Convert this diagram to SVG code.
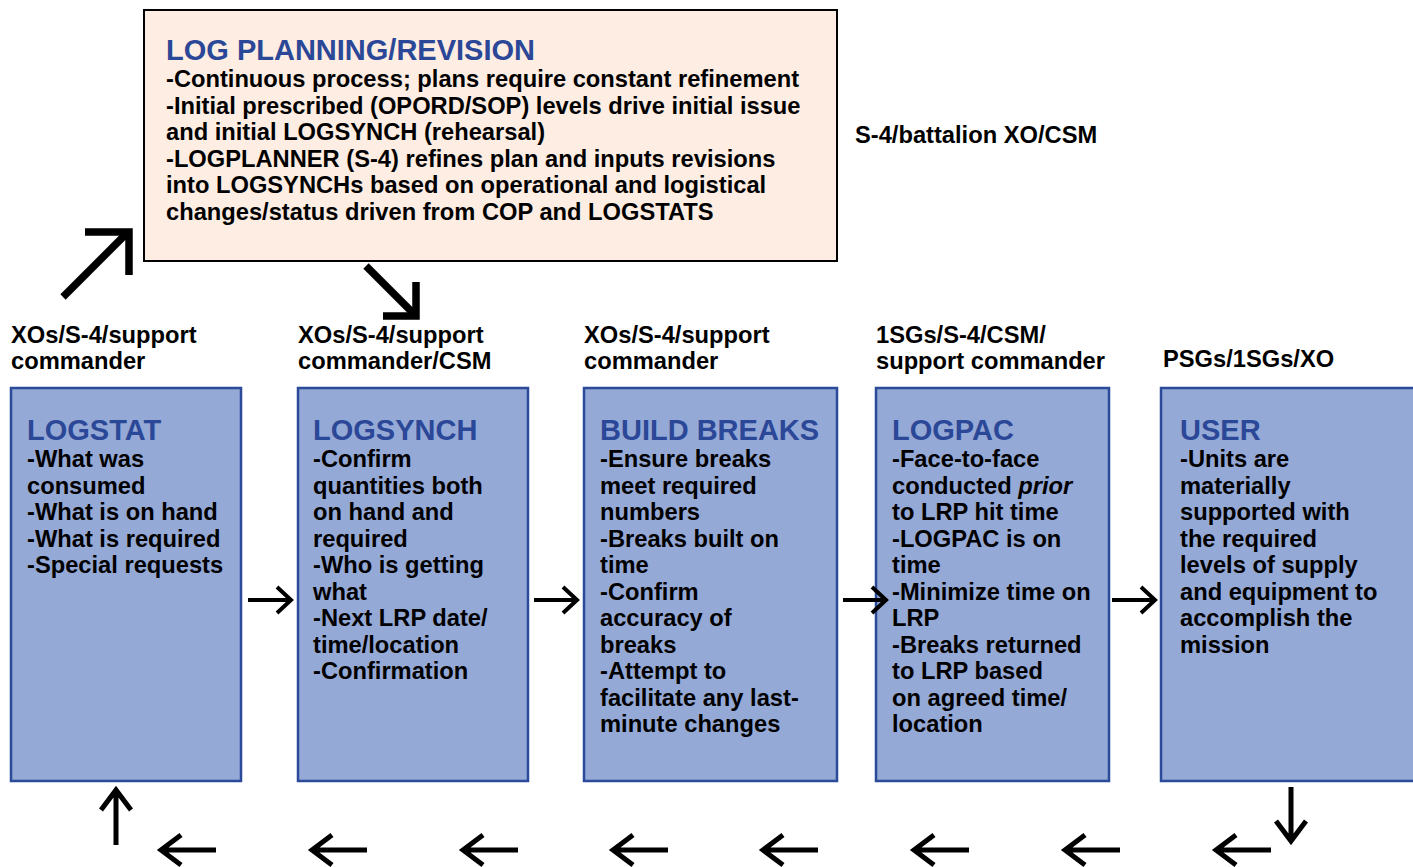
<svg xmlns="http://www.w3.org/2000/svg" width="1413" height="867" viewBox="0 0 1413 867">
<style>
text{font-family:"Liberation Sans",Arial,Helvetica,sans-serif;font-weight:bold;fill:#000}
.t{font-size:23.7px}
.h{font-size:29px;fill:#2b4797}
.box{fill:#95a9d6;stroke:#2b4a9a;stroke-width:2.5}
.plan{fill:#fdede2;stroke:#000;stroke-width:2}
.big{fill:none;stroke:#000;stroke-width:7.5;stroke-linecap:butt;stroke-linejoin:miter}
.mid{fill:none;stroke:#000;stroke-width:4;stroke-linejoin:miter}
.bot{fill:none;stroke:#000;stroke-width:5;stroke-linejoin:miter}
</style>
<rect width="1413" height="867" fill="#fff"/>

<g id="plan">
<rect class="plan" x="144" y="10" width="693" height="251"/>
<text class="h" x="166" y="60">LOG PLANNING/REVISION</text>
<text class="t" x="166" y="87">-Continuous process; plans require constant refinement</text>
<text class="t" x="166" y="113.5">-Initial prescribed (OPORD/SOP) levels drive initial issue</text>
<text class="t" x="166" y="140">and initial LOGSYNCH (rehearsal)</text>
<text class="t" x="166" y="166.5">-LOGPLANNER (S-4) refines plan and inputs revisions</text>
<text class="t" x="166" y="193">into LOGSYNCHs based on operational and logistical</text>
<text class="t" x="166" y="219.5">changes/status driven from COP and LOGSTATS</text>
</g>

<g id="labels">
<text class="t" x="855" y="143">S-4/battalion XO/CSM</text>
<text class="t" x="11" y="342.5">XOs/S-4/support</text>
<text class="t" x="11" y="369">commander</text>
<text class="t" x="298" y="342.5">XOs/S-4/support</text>
<text class="t" x="298" y="369">commander/CSM</text>
<text class="t" x="584" y="342.5">XOs/S-4/support</text>
<text class="t" x="584" y="369">commander</text>
<text class="t" x="876" y="342.5">1SGs/S-4/CSM/</text>
<text class="t" x="876" y="369">support commander</text>
<text class="t" x="1163" y="367">PSGs/1SGs/XO</text>
</g>

<g id="logstat">
<rect class="box" x="11" y="388" width="230" height="393"/>
<text class="h" x="27" y="440">LOGSTAT</text>
<text class="t" x="27" y="467">-What was</text>
<text class="t" x="27" y="493.5">consumed</text>
<text class="t" x="27" y="520">-What is on hand</text>
<text class="t" x="27" y="546.5">-What is required</text>
<text class="t" x="27" y="573">-Special requests</text>
</g>

<g id="logsynch">
<rect class="box" x="298" y="388" width="230" height="393"/>
<text class="h" x="313" y="440">LOGSYNCH</text>
<text class="t" x="313" y="467">-Confirm</text>
<text class="t" x="313" y="493.5">quantities both</text>
<text class="t" x="313" y="520">on hand and</text>
<text class="t" x="313" y="546.5">required</text>
<text class="t" x="313" y="573">-Who is getting</text>
<text class="t" x="313" y="599.5">what</text>
<text class="t" x="313" y="626">-Next LRP date/</text>
<text class="t" x="313" y="652.5">time/location</text>
<text class="t" x="313" y="679">-Confirmation</text>
</g>

<g id="buildbreaks">
<rect class="box" x="584" y="388" width="253" height="393"/>
<text class="h" x="600" y="440">BUILD BREAKS</text>
<text class="t" x="600" y="467">-Ensure breaks</text>
<text class="t" x="600" y="493.5">meet required</text>
<text class="t" x="600" y="520">numbers</text>
<text class="t" x="600" y="546.5">-Breaks built on</text>
<text class="t" x="600" y="573">time</text>
<text class="t" x="600" y="599.5">-Confirm</text>
<text class="t" x="600" y="626">accuracy of</text>
<text class="t" x="600" y="652.5">breaks</text>
<text class="t" x="600" y="679">-Attempt to</text>
<text class="t" x="600" y="705.5">facilitate any last-</text>
<text class="t" x="600" y="732">minute changes</text>
</g>

<g id="logpac">
<rect class="box" x="876" y="388" width="233" height="393"/>
<text class="h" x="892" y="440">LOGPAC</text>
<text class="t" x="892" y="467">-Face-to-face</text>
<text class="t" x="892" y="493.5">conducted <tspan font-style="italic">prior</tspan></text>
<text class="t" x="892" y="520">to LRP hit time</text>
<text class="t" x="892" y="546.5">-LOGPAC is on</text>
<text class="t" x="892" y="573">time</text>
<text class="t" x="892" y="599.5">-Minimize time on</text>
<text class="t" x="892" y="626">LRP</text>
<text class="t" x="892" y="652.5">-Breaks returned</text>
<text class="t" x="892" y="679">to LRP based</text>
<text class="t" x="892" y="705.5">on agreed time/</text>
<text class="t" x="892" y="732">location</text>
</g>

<g id="user">
<rect class="box" x="1161" y="388" width="270" height="393"/>
<text class="h" x="1180" y="440">USER</text>
<text class="t" x="1180" y="467">-Units are</text>
<text class="t" x="1180" y="493.5">materially</text>
<text class="t" x="1180" y="520">supported with</text>
<text class="t" x="1180" y="546.5">the required</text>
<text class="t" x="1180" y="573">levels of supply</text>
<text class="t" x="1180" y="599.5">and equipment to</text>
<text class="t" x="1180" y="626">accomplish the</text>
<text class="t" x="1180" y="652.5">mission</text>
</g>

<g id="connectors">
<!-- big diagonal arrows -->
<path class="big" d="M63,297 L128,232"/>
<path class="big" d="M85,232 L129,232 L129,275"/>
<path class="big" d="M366,266 L415,315"/>
<path class="big" d="M416,282 L416,316 L383,316"/>
<!-- arrows between boxes -->
<path class="mid" d="M248,600 H290 M277,587 L291,600 L277,613"/>
<path class="mid" d="M534,600 H576 M563,587 L577,600 L563,613"/>
<path class="mid" d="M843,600 H885 M872,587 L886,600 L872,613"/>
<path class="mid" d="M1112,600 H1154 M1141,587 L1155,600 L1141,613"/>
<!-- return path -->
<path class="bot" d="M1291,787 V840 M1276,821 L1291,841 L1306,821"/>
<path class="bot" d="M1271,850 H1216 M1236,835 L1216,850 L1236,865"/>
<path class="bot" d="M1120,850 H1065 M1085,835 L1065,850 L1085,865"/>
<path class="bot" d="M969,850 H914 M934,835 L914,850 L934,865"/>
<path class="bot" d="M818,850 H763 M783,835 L763,850 L783,865"/>
<path class="bot" d="M668,850 H613 M633,835 L613,850 L633,865"/>
<path class="bot" d="M518,850 H463 M483,835 L463,850 L483,865"/>
<path class="bot" d="M367,850 H312 M332,835 L312,850 L332,865"/>
<path class="bot" d="M216,850 H161 M181,835 L161,850 L181,865"/>
<path class="bot" d="M116,845 V790 M101,810 L116,790 L131,810"/>
</g>
</svg>
